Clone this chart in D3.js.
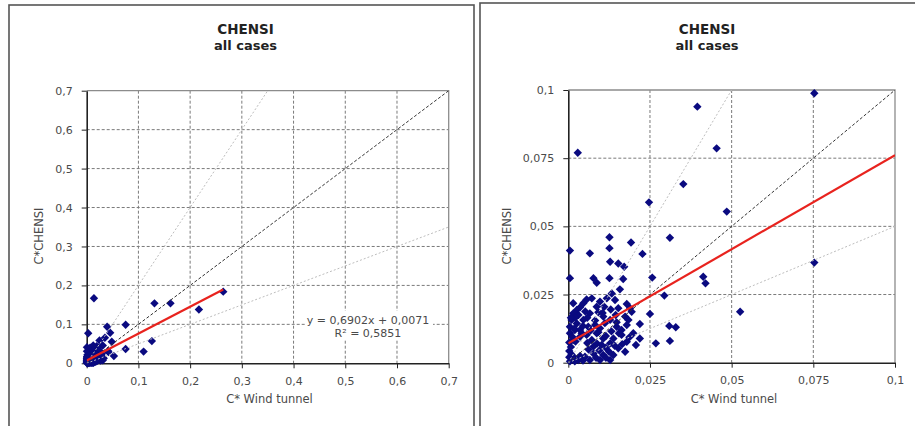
<!DOCTYPE html>
<html><head><meta charset="utf-8">
<script src="https://cdn.jsdelivr.net/npm/d3@7"></script>
<style>body{margin:0;background:#fff}svg{display:block}text{font-family:"DejaVu Sans",sans-serif}</style>
</head><body><svg id="c" width="915" height="426"></svg>
<script>
// ---- data ----
const cWindTunnel = [
0.014,0.131,0.162,0.217,0.264,0.126,0.110,
0.0753,0.0395,0.0029,0.0454,0.0352,0.0247,0.0485,0.0311,0.0126,0.0192,0.0005,0.0126,0.0066,0.0227,0.0128,0.0153,0.0171,0.0753,0.0005,0.0077,0.0087,0.0126,0.0168,0.0257,0.0413,0.042,0.0158,0.0133,0.0294,0.0526,0.025,0.0179,0.0189,0.0219,0.0309,0.0329,0.0311,0.0268,0.0207,0.0187,0.0155,
0.0056,0.0072,0.0046,0.0036,0.0026,0.0118,0.0097,0.0143,0.0153,0.0194,0.0174,0.0184,0.0179,0.0163,0.0148,0.0128,0.0107,0.0066,0.0199,0.0219,0.0179,0.0153,0.0128,0.0107,0.0087,0.0138,0.0163,0.0174,0.0138,0.0107,0.0077,0.0051,0.0015,0.0005,0.0015,0.0003,0.0003,0.0003,0.0036,0.0056,0.0072,0.0077,0.0031,0.0066,0.0097,0.0128,0.001,0.0026,0.0046,0.0031,0.0015,0.0005,0.0036,0.0061,0.0082,0.0097,0.0015,0.0087,
0.0005,0.001,0.002,0.0045,0.0085,0.0115,0.0095,0.0115,0.0125,0.0062,0.0008,0.0012,0.002,0.0045,0.0058,0.0082,0.0092,0.011,0.013,0.0145,0.0112,0.0132,0.0148,0.0088,0.0102,0.0115,
0.0021,0.0041,0.0008,0.0014,0.0068,0.0092,0.0052,0.0105,0.0022,0.0036,0.0018,0.0058,0.0142,0.0165
];
const cChensi = [
0.167,0.154,0.154,0.138,0.184,0.057,0.030,
0.0988,0.0939,0.077,0.0786,0.0655,0.0588,0.0554,0.0458,0.046,0.0441,0.0411,0.042,0.0401,0.0399,0.037,0.0364,0.0352,0.0367,0.031,0.031,0.0293,0.031,0.0307,0.0312,0.0315,0.0291,0.0269,0.0254,0.0246,0.0187,0.0179,0.0215,0.02,0.0142,0.0135,0.013,0.008,0.0071,0.0065,0.0093,0.0108,
0.0232,0.0236,0.0218,0.0203,0.0193,0.0236,0.0224,0.023,0.02,0.0187,0.0169,0.0157,0.0138,0.012,0.0132,0.0157,0.0169,0.0181,0.0108,0.0089,0.0077,0.0053,0.0071,0.0089,0.0108,0.0089,0.0102,0.004,0.0028,0.0028,0.0034,0.0022,0.0022,0.0108,0.0083,0.0074,0.0043,0.002,0.0095,0.0102,0.0083,0.0059,0.001,0.001,0.001,0.001,0.0157,0.0144,0.0157,0.0175,0.0181,0.0132,0.012,0.0132,0.0138,0.0126,0.0218,0.0205,
0.0005,0.003,0.0005,0.0008,0.0018,0.0018,0.0045,0.0055,0.004,0.0048,0.0058,0.0095,0.012,0.0135,0.0165,0.0155,0.0185,0.0205,0.0195,0.0175,0.0145,0.0115,0.0148,0.007,0.0065,0.0098,
0.0165,0.0108,0.0165,0.0012,0.0118,0.0112,0.0188,0.0182,0.0078,0.0025,0.0125,0.0072,0.0062,0.0068
];
const trendSlope = 0.6902, trendIntercept = 0.0071;
const equationLines = ["y = 0,6902x + 0,0071", "R\u00B2 = 0,5851"];
const refFactors = [2, 1, 0.5];
const leftTicks = [0,0.1,0.2,0.3,0.4,0.5,0.6,0.7];
const leftTickLabels = ["0","0,1","0,2","0,3","0,4","0,5","0,6","0,7"];
const rightTicks = [0,0.025,0.05,0.075,0.1];
const rightTickLabels = ["0","0,025","0,05","0,075","0,1"];
const chartTitle = "CHENSI", chartSubtitle = "all cases";
const xTitle = "C* Wind tunnel", yTitle = "C*CHENSI";

const svg = d3.select("#c");
const pts = cWindTunnel.map((x,i)=>({x, y:cChensi[i]}));

// panel frames
svg.append("rect").attr("x",9).attr("y",5).attr("width",465).attr("height",440)
  .attr("fill","none").attr("stroke","#555").attr("stroke-width",1.6);
svg.append("rect").attr("x",480).attr("y",3).attr("width",460).attr("height",440)
  .attr("fill","none").attr("stroke","#555").attr("stroke-width",1.6);

function panel(o){
  const g = svg.append("g");
  const max = o.ticks[o.ticks.length-1];
  const x = d3.scaleLinear().domain([0,max]).range([o.x0,o.x1]);
  const y = d3.scaleLinear().domain([0,max]).range([o.y1,o.y0]);
  const id = "clip"+o.id;
  svg.append("clipPath").attr("id",id).append("rect")
    .attr("x",o.x0).attr("y",o.y0).attr("width",o.x1-o.x0).attr("height",o.y1-o.y0);

  // gridlines
  const inner = o.ticks.slice(1,-1);
  g.selectAll(".gv").data(inner).join("line")
    .attr("x1",d=>x(d)).attr("x2",d=>x(d)).attr("y1",o.y0).attr("y2",o.y1)
    .attr("stroke","#7a7a7a").attr("stroke-dasharray","3,2");
  g.selectAll(".gh").data(inner).join("line")
    .attr("y1",d=>y(d)).attr("y2",d=>y(d)).attr("x1",o.x0).attr("x2",o.x1)
    .attr("stroke","#7a7a7a").attr("stroke-dasharray","3,2");
  // top/right border
  g.append("path").attr("d",`M${o.x0},${o.y0}H${o.x1}V${o.y1}`)
    .attr("fill","none").attr("stroke","#8c8c8c").attr("stroke-width",1.3);

  // axes
  const xa = d3.axisBottom(x).tickValues(o.ticks).tickFormat((d,i)=>o.labels[i]).tickSizeInner(5).tickSizeOuter(0).tickPadding(9);
  const ya = d3.axisLeft(y).tickValues(o.ticks).tickFormat((d,i)=>o.labels[i]).tickSizeInner(5).tickSizeOuter(0).tickPadding(9);
  const gx = g.append("g").attr("transform",`translate(0,${o.y1})`).call(xa);
  const gy = g.append("g").attr("transform",`translate(${o.x0},0)`).call(ya);
  [gx,gy].forEach(a=>{
    a.select(".domain").attr("stroke","#222").attr("stroke-width",1.6);
    a.selectAll(".tick line").attr("stroke","#222");
    a.selectAll("text").attr("font-size",11).attr("fill","#4a4a4a").attr("font-family","DejaVu Sans");
  });

  // points
  const data = pts.filter(p=>p.x<=max && p.y<=max);
  g.selectAll(".pt").data(data).join("path")
    .attr("d","M0,-4.2L4.2,0L0,4.2L-4.2,0Z")
    .attr("transform",d=>`translate(${x(d.x)},${y(d.y)})`)
    .attr("fill","#0a0a80");

  // reference lines
  const lg = g.append("g").attr("clip-path",`url(#${id})`);
  refFactors.forEach(f=>{
    const xe = f>=1 ? max/f : max;
    lg.append("line").attr("x1",x(0)).attr("y1",y(0)).attr("x2",x(xe)).attr("y2",y(xe*f))
      .attr("stroke", f===1 ? "#333" : "#bdbdbd").attr("stroke-width",1)
      .attr("stroke-dasharray", f===1 ? "3,2" : "2,2");
  });
  // trendline
  const xmax = Math.min(d3.max(cWindTunnel), max);
  lg.append("line").attr("x1",x(0)).attr("y1",y(trendIntercept))
    .attr("x2",x(xmax)).attr("y2",y(trendSlope*xmax+trendIntercept))
    .attr("stroke","#e8231e").attr("stroke-width",2.2);

  // titles
  const cx = o.titleX;
  svg.append("text").attr("x",cx).attr("y",34).attr("text-anchor","middle")
    .attr("font-size",13.5).attr("font-weight","bold").attr("fill","#222").text(chartTitle);
  svg.append("text").attr("x",cx).attr("y",49.5).attr("text-anchor","middle")
    .attr("font-size",13).attr("font-weight","bold").attr("fill","#222").text(chartSubtitle);
  svg.append("text").attr("x",o.xTitleX).attr("y",403).attr("text-anchor","middle")
    .attr("font-size",11.5).attr("fill","#4a4a4a").text(xTitle);
  svg.append("text").attr("transform",`translate(${o.yTitleX},236) rotate(-90)`).attr("text-anchor","middle")
    .attr("font-size",11.5).attr("fill","#4a4a4a").text(yTitle);

  if(o.equation){
    const eg = svg.append("g");
    eg.append("rect").attr("x",305).attr("y",311).attr("width",128).attr("height",28).attr("fill","#fff");
    equationLines.forEach((t,i)=>{
      eg.append("text").attr("x",368).attr("y",324+i*13).attr("text-anchor","middle")
        .attr("font-size",11).attr("fill","#4a4a4a").text(t);
    });
  }
}

panel({id:"L",x0:86.7,x1:448.7,y0:90.7,y1:363.3,ticks:leftTicks,labels:leftTickLabels,titleX:245.5,xTitleX:269.5,yTitleX:43,equation:true});
panel({id:"R",x0:568.3,x1:895,y0:90,y1:362.7,ticks:rightTicks,labels:rightTickLabels,titleX:707,xTitleX:734,yTitleX:511,equation:false});
</script></body></html>
